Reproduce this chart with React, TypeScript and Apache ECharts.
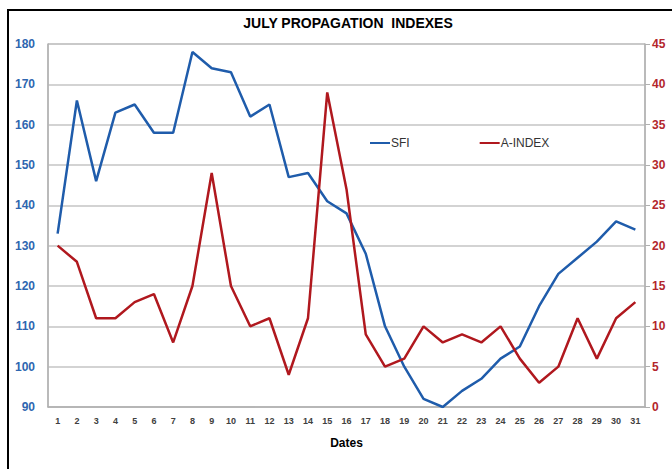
import React, { useEffect, useRef } from "react";
import * as echarts from "echarts";

const dates = Array.from({ length: 31 }, (_, i) => String(i + 1));
const sfi = [133, 166, 146, 163, 165, 158, 158, 178, 174, 173, 162, 165, 147, 148, 141, 138, 128, 110, 100, 92, 90, 94, 97, 102, 105, 115, 123, 127, 131, 136, 134];
const aIndex = [20, 18, 11, 11, 13, 14, 8, 15, 29, 15, 10, 11, 4, 11, 39, 27, 9, 5, 6, 10, 8, 9, 8, 10, 6, 3, 5, 11, 6, 11, 13];

const BLUE = "#1f5cab";
const RED = "#b0181e";
const BLUE_LABEL = "#2e66b0";
const RED_LABEL = "#b3262b";
const FONT = "'Liberation Sans', Arial, sans-serif";

export default function App() {
  const ref = useRef<HTMLDivElement>(null);
  useEffect(() => {
    if (!ref.current) return;
    const chart = echarts.init(ref.current, null, { renderer: "svg" });
    chart.setOption({
      animation: false,
      backgroundColor: "#ffffff",
      title: {
        text: "JULY PROPAGATION  INDEXES",
        left: 343,
        textAlign: "center",
        top: 11,
        textStyle: { fontFamily: FONT, fontWeight: "bold", fontSize: 14, color: "#000" },
      },
      graphic: [
        {
          type: "rect",
          shape: { x: 8, y: 10, width: 700, height: 500 },
          style: { fill: "none", stroke: "#000", lineWidth: 2 },
          silent: true,
        },
      ],
      legend: {
        left: 365,
        top: 132,
        icon: "rect",
        itemWidth: 20,
        itemHeight: 2,
        itemGap: 70,
        textStyle: { fontFamily: FONT, fontSize: 12, color: "#333333", padding: [0, 0, 0, -4] },
        data: ["SFI", "A-INDEX"],
      },
      grid: { left: 48, right: 27, top: 44, bottom: 62, containLabel: false, show: true, borderColor: "#b0b0b0", borderWidth: 1 },
      xAxis: {
        type: "category",
        data: dates,
        boundaryGap: true,
        name: "Dates",
        nameLocation: "middle",
        nameGap: 30,
        nameTextStyle: { fontFamily: FONT, fontWeight: "bold", fontSize: 12, color: "#000" },
        axisLine: { lineStyle: { color: "#b0b0b0", width: 1.5 } },
        axisTick: { show: false },
        axisLabel: { interval: 0, margin: 9, fontFamily: FONT, fontSize: 9, fontWeight: "bold", color: "#404040" },
      },
      yAxis: [
        {
          type: "value",
          min: 90,
          max: 180,
          interval: 10,
          position: "left",
          axisLine: { show: true, lineStyle: { color: "#b0b0b0", width: 1.5 } },
          axisTick: { show: false },
          splitLine: { lineStyle: { color: "#c4c4c4", width: 1.5 } },
          axisLabel: { margin: 13, fontFamily: FONT, fontSize: 12, fontWeight: "bold", color: BLUE_LABEL },
        },
        {
          type: "value",
          min: 0,
          max: 45,
          interval: 5,
          position: "right",
          axisLine: { show: true, lineStyle: { color: "#b0b0b0", width: 1.5 } },
          axisTick: { show: true, length: 5, lineStyle: { color: "#b0b0b0" } },
          splitLine: { show: false },
          axisLabel: { margin: 7, fontFamily: FONT, fontSize: 12, fontWeight: "bold", color: RED_LABEL },
        },
      ],
      series: [
        {
          name: "SFI",
          type: "line",
          yAxisIndex: 0,
          data: sfi,
          showSymbol: false,
          symbol: "none",
          lineStyle: { color: BLUE, width: 2.5 },
          itemStyle: { color: BLUE },
        },
        {
          name: "A-INDEX",
          type: "line",
          yAxisIndex: 1,
          data: aIndex,
          showSymbol: false,
          symbol: "none",
          lineStyle: { color: RED, width: 2.5 },
          itemStyle: { color: RED },
        },
      ],
    });
    return () => chart.dispose();
  }, []);
  return (
    <div
      ref={ref}
      style={{ position: "fixed", left: 0, top: 0, width: 672, height: 469 }}
    />
  );
}
